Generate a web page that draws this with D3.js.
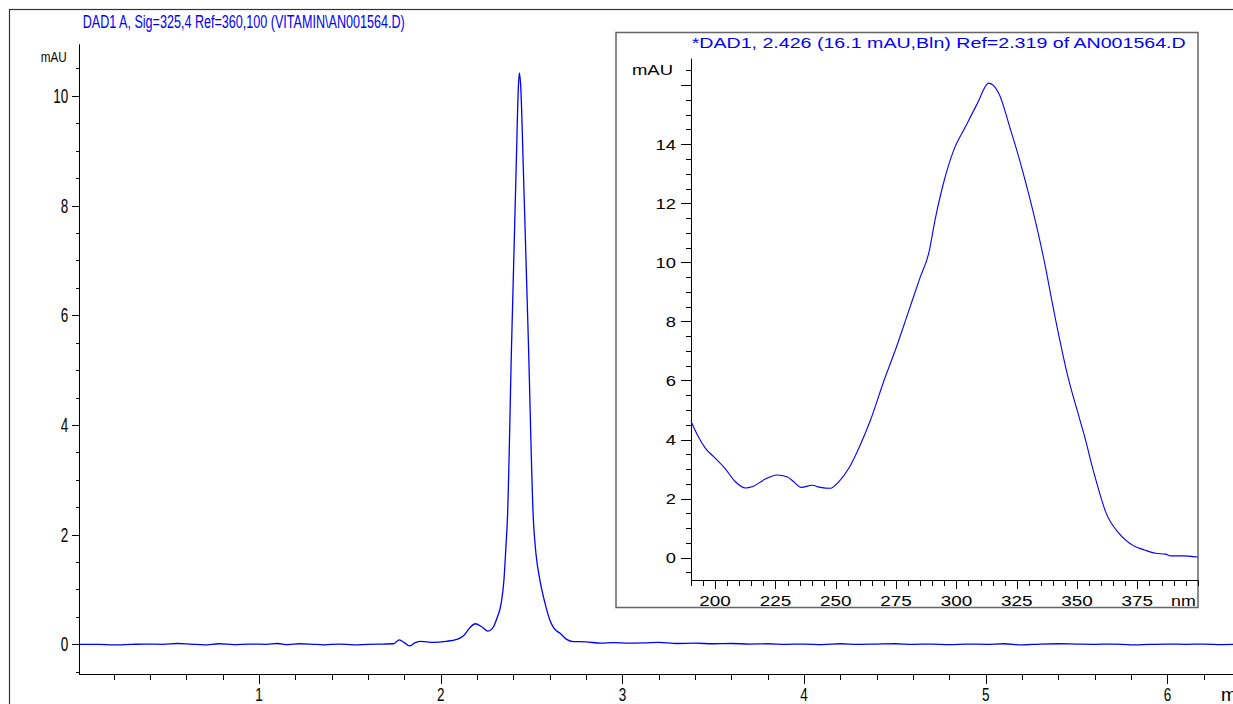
<html lang="en">
  <head>
    <meta charset="UTF-8" />
    <title>DAD1 A chromatogram with UV spectrum</title>
    <script src="https://cdn.jsdelivr.net/npm/d3@7"></script>
  </head>
  <style>
    body {
      margin: 0;
      background: #fff;
    }
    svg {
      display: block;
    }
    .narrow {
      font-family: "Liberation Sans Narrow", "Arial Narrow", "Liberation Sans", sans-serif;
    }
    .wide {
      font-family: "Liberation Sans", Arial, sans-serif;
    }
  </style>
  <body>
    <div id="viz"><svg width="1233" height="704"></svg></div>
    <script>
      // chromatogram, DAD1 A 325 nm (time in min, mAU)
      var chromTime = [
        0.01, 0.12, 0.2, 0.3, 0.38, 0.47, 0.55, 0.62, 0.7, 0.78,
        0.86, 0.95, 1.04, 1.1, 1.16, 1.22, 1.28, 1.36, 1.44, 1.52,
        1.6, 1.68, 1.74, 1.772, 1.8, 1.827, 1.86, 1.89, 1.96, 2.03,
        2.088, 2.124, 2.16, 2.19, 2.226, 2.26, 2.285, 2.31, 2.333, 2.348,
        2.359, 2.367, 2.39, 2.415, 2.428, 2.433, 2.44, 2.455, 2.483, 2.51,
        2.524, 2.546, 2.574, 2.601, 2.624, 2.657, 2.693, 2.73, 2.8, 2.88,
        2.95, 3.04, 3.12, 3.2, 3.3, 3.4, 3.5, 3.6, 3.7, 3.8,
        3.9, 4.0, 4.1, 4.2, 4.3, 4.4, 4.5, 4.6, 4.7, 4.8,
        4.9, 5.0, 5.1, 5.2, 5.3, 5.4, 5.5, 5.6, 5.7, 5.8,
        5.9, 6.0, 6.1, 6.2, 6.3, 6.4
      ];
      var chromMAU = [
        0.0, 0.0, -0.01, 0.0, 0.005, 0.0, 0.015, 0.005, -0.01, 0.01,
        -0.005, 0.005, 0.0, 0.015, -0.005, 0.01, 0.005, -0.01, 0.005, -0.01,
        0.0, 0.005, 0.01, 0.08, 0.03, -0.03, 0.03, 0.055, 0.035, 0.055,
        0.09, 0.15, 0.3, 0.375, 0.32, 0.24, 0.29, 0.48, 0.75, 1.17,
        1.78, 2.27, 5.46, 8.65, 10.2, 10.42, 10.2, 8.65, 5.46, 2.27,
        1.66, 1.17, 0.75, 0.44, 0.29, 0.2, 0.09, 0.05, 0.045, 0.02,
        0.03, 0.02, 0.025, 0.035, 0.015, 0.02, 0.01, 0.015, 0.005, 0.01,
        0.0, 0.005, -0.005, 0.01, 0.0, 0.005, 0.01, 0.0, 0.005, -0.005,
        0.005, 0.0, 0.01, -0.01, 0.005, 0.01, 0.005, 0.0, 0.005, -0.01,
        0.0, 0.005, 0.0, 0.005, -0.005, 0.0
      ];
      var chromYLabels = [0, 2, 4, 6, 8, 10];
      var chromXLabels = [1, 2, 3, 4, 5, 6];

      // UV spectrum at 2.426 min (nm, mAU)
      var specNm = [
        190, 193, 196, 199.4, 204.3, 208.4, 212.6, 215.3, 220.8, 225.7,
        229.8, 232.6, 235.6, 240.2, 243.6, 247.8, 251.2, 255.4, 259.5, 264.4,
        270, 275, 280, 285, 288.5, 291.3, 294.8, 298.9, 303.8, 308.5,
        313.4, 317.6, 322.4, 325.9, 330, 333, 336, 341, 346, 351.2,
        353.5, 356.3, 359, 361.8, 367.3, 373.5, 378, 382.5, 386.7, 388.8,
        393.6, 400
      ];
      var specMAU = [
        4.62, 4.1, 3.7, 3.42, 3.0, 2.57, 2.36, 2.4, 2.66, 2.8,
        2.74, 2.57, 2.38, 2.45, 2.38, 2.35, 2.57, 3.03, 3.7, 4.66,
        6.0, 7.1, 8.3, 9.5, 10.3, 11.5, 12.73, 13.8, 14.6, 15.35,
        16.07, 15.72, 14.5, 13.55, 12.3, 11.3, 10.2, 8.1, 6.2, 4.66,
        3.99, 3.08, 2.29, 1.56, 0.83, 0.4, 0.26, 0.15, 0.12, 0.06,
        0.06, 0.02
      ];
      var specYLabels = [0, 2, 4, 6, 8, 10, 12, 14];
      var specXLabels = [200, 225, 250, 275, 300, 325, 350, 375];

      var blue = "#0000ff";
      var svg = d3.select("svg");

      // outer frame (right and bottom lie outside the window)
      svg.append("rect")
        .attr("x", 9.5).attr("y", 9.5)
        .attr("width", 1400).attr("height", 900)
        .attr("fill", "none")
        .attr("stroke", "#333")
        .attr("stroke-width", 1.2);

      // ---------- main chromatogram ----------
      var x = d3.scaleLinear().domain([0, 6.4]).range([77.3, 77.3 + 6.4 * 181.7]);
      var y = d3.scaleLinear().domain([-0.554, 10.94]).range([674.7, 44.3]);

      var mainG = svg.append("g");

      mainG.append("line")
        .attr("x1", 79.5).attr("x2", 79.5)
        .attr("y1", y(10.94)).attr("y2", y(-0.554))
        .attr("stroke", "#000");
      mainG.append("line")
        .attr("x1", 79).attr("x2", 1240)
        .attr("y1", 674.5).attr("y2", 674.5)
        .attr("stroke", "#000");

      var yTicks = d3.range(-0.5, 10.51, 0.5);
      mainG.selectAll("line.ytick")
        .data(yTicks)
        .enter()
        .append("line")
        .attr("class", "ytick")
        .attr("x1", function (d) { return chromYLabels.indexOf(d) >= 0 ? 72 : 76; })
        .attr("x2", 79.5)
        .attr("y1", function (d) { return Math.round(y(d)) + 0.5; })
        .attr("y2", function (d) { return Math.round(y(d)) + 0.5; })
        .attr("stroke", "#000");

      mainG.selectAll("text.ylab")
        .data(chromYLabels)
        .enter()
        .append("text")
        .attr("class", "ylab narrow")
        .attr("x", 68.3)
        .attr("y", function (d) { return y(d) + 7; })
        .attr("text-anchor", "end")
        .style("font-size", "20px")
        .attr("textLength", function (d) { return String(d).length * 7.5; })
        .attr("lengthAdjust", "spacingAndGlyphs")
        .text(function (d) { return d; });

      var xTicks = d3.range(1, 32).map(function (i) { return +(i * 0.2).toFixed(1); });
      mainG.selectAll("line.xtick")
        .data(xTicks)
        .enter()
        .append("line")
        .attr("class", "xtick")
        .attr("x1", function (d) { return Math.round(x(d)) + 0.5; })
        .attr("x2", function (d) { return Math.round(x(d)) + 0.5; })
        .attr("y1", 674.5)
        .attr("y2", function (d) { return chromXLabels.indexOf(d) >= 0 ? 684 : 680; })
        .attr("stroke", "#000");

      mainG.selectAll("text.xlab")
        .data(chromXLabels)
        .enter()
        .append("text")
        .attr("class", "xlab narrow")
        .attr("x", function (d) { return x(d); })
        .attr("y", 701)
        .attr("text-anchor", "middle")
        .style("font-size", "19px")
        .attr("textLength", 7.5)
        .attr("lengthAdjust", "spacingAndGlyphs")
        .text(function (d) { return d; });

      mainG.append("text")
        .attr("class", "narrow")
        .attr("x", 1221).attr("y", 701)
        .style("font-size", "19px")
        .text("min");

      mainG.append("text")
        .attr("class", "narrow")
        .attr("x", 40.7).attr("y", 62)
        .style("font-size", "15px")
        .attr("textLength", 26)
        .attr("lengthAdjust", "spacingAndGlyphs")
        .text("mAU");

      mainG.append("text")
        .attr("class", "narrow")
        .attr("x", 82.7).attr("y", 28.3)
        .attr("fill", blue)
        .style("font-size", "17.5px")
        .attr("textLength", 322)
        .attr("lengthAdjust", "spacingAndGlyphs")
        .text("DAD1 A, Sig=325,4 Ref=360,100 (VITAMIN\\AN001564.D)");

      var chromLine = d3.line()
        .x(function (d, i) { return x(chromTime[i]); })
        .y(function (d) { return y(d); })
        .curve(d3.curveMonotoneX);

      mainG.append("path")
        .datum(chromMAU)
        .attr("d", chromLine)
        .attr("fill", "none")
        .attr("stroke", blue)
        .attr("stroke-width", 1.3);

      // ---------- inset spectrum ----------
      var sx = d3.scaleLinear().domain([190, 400]).range([691, 1197.7]);
      var sy = d3.scaleLinear().domain([-0.78, 16.9]).range([580.7, 58.6]);

      var insetG = svg.append("g");

      insetG.append("rect")
        .attr("x", 616).attr("y", 32.5)
        .attr("width", 582).attr("height", 575)
        .attr("fill", "#fff")
        .attr("stroke", "#666")
        .attr("stroke-width", 1.5);

      insetG.append("line")
        .attr("x1", 691.5).attr("x2", 691.5)
        .attr("y1", sy(16.9)).attr("y2", 581)
        .attr("stroke", "#000");
      insetG.append("line")
        .attr("x1", 691).attr("x2", 1198)
        .attr("y1", 580.5).attr("y2", 580.5)
        .attr("stroke", "#000");

      var syTicks = d3.range(-0.5, 16.51, 0.5);
      insetG.selectAll("line.sytick")
        .data(syTicks)
        .enter()
        .append("line")
        .attr("class", "sytick")
        .attr("x1", function (d) { return d >= 0 && d % 2 === 0 ? 681 : 686; })
        .attr("x2", 691.5)
        .attr("y1", function (d) { return Math.round(sy(d)) + 0.5; })
        .attr("y2", function (d) { return Math.round(sy(d)) + 0.5; })
        .attr("stroke", "#000");

      insetG.selectAll("text.sylab")
        .data(specYLabels)
        .enter()
        .append("text")
        .attr("class", "sylab wide")
        .attr("x", 676)
        .attr("y", function (d) { return sy(d) + 5.7; })
        .attr("text-anchor", "end")
        .style("font-size", "15px")
        .attr("textLength", function (d) { return String(d).length * 10.2; })
        .attr("lengthAdjust", "spacingAndGlyphs")
        .text(function (d) { return d; });

      var sxTicks = d3.range(190, 401, 5);
      insetG.selectAll("line.sxtick")
        .data(sxTicks)
        .enter()
        .append("line")
        .attr("class", "sxtick")
        .attr("x1", function (d) { return Math.round(sx(d)) + 0.5; })
        .attr("x2", function (d) { return Math.round(sx(d)) + 0.5; })
        .attr("y1", 580.5)
        .attr("y2", function (d) { return specXLabels.indexOf(d) >= 0 ? 589 : 586; })
        .attr("stroke", "#000");

      insetG.selectAll("text.sxlab")
        .data(specXLabels)
        .enter()
        .append("text")
        .attr("class", "sxlab wide")
        .attr("x", function (d) { return sx(d); })
        .attr("y", 605.5)
        .attr("text-anchor", "middle")
        .style("font-size", "15px")
        .attr("textLength", 31.5)
        .attr("lengthAdjust", "spacingAndGlyphs")
        .text(function (d) { return d; });

      insetG.append("text")
        .attr("class", "wide")
        .attr("x", 1171).attr("y", 605.5)
        .style("font-size", "14px")
        .attr("textLength", 24.7)
        .attr("lengthAdjust", "spacingAndGlyphs")
        .text("nm");

      insetG.append("text")
        .attr("class", "wide")
        .attr("x", 632).attr("y", 75)
        .style("font-size", "14.5px")
        .attr("textLength", 41)
        .attr("lengthAdjust", "spacingAndGlyphs")
        .text("mAU");

      insetG.append("text")
        .attr("class", "wide")
        .attr("x", 691.7).attr("y", 47.5)
        .attr("fill", blue)
        .style("font-size", "15.5px")
        .attr("textLength", 494)
        .attr("lengthAdjust", "spacingAndGlyphs")
        .text("*DAD1, 2.426 (16.1 mAU,Bln) Ref=2.319 of AN001564.D");

      var specLine = d3.line()
        .x(function (d, i) { return sx(specNm[i]); })
        .y(function (d) { return sy(d); })
        .curve(d3.curveMonotoneX);

      insetG.append("path")
        .datum(specMAU)
        .attr("d", specLine)
        .attr("fill", "none")
        .attr("stroke", blue)
        .attr("stroke-width", 1.1);
    </script>
  </body>
</html>
